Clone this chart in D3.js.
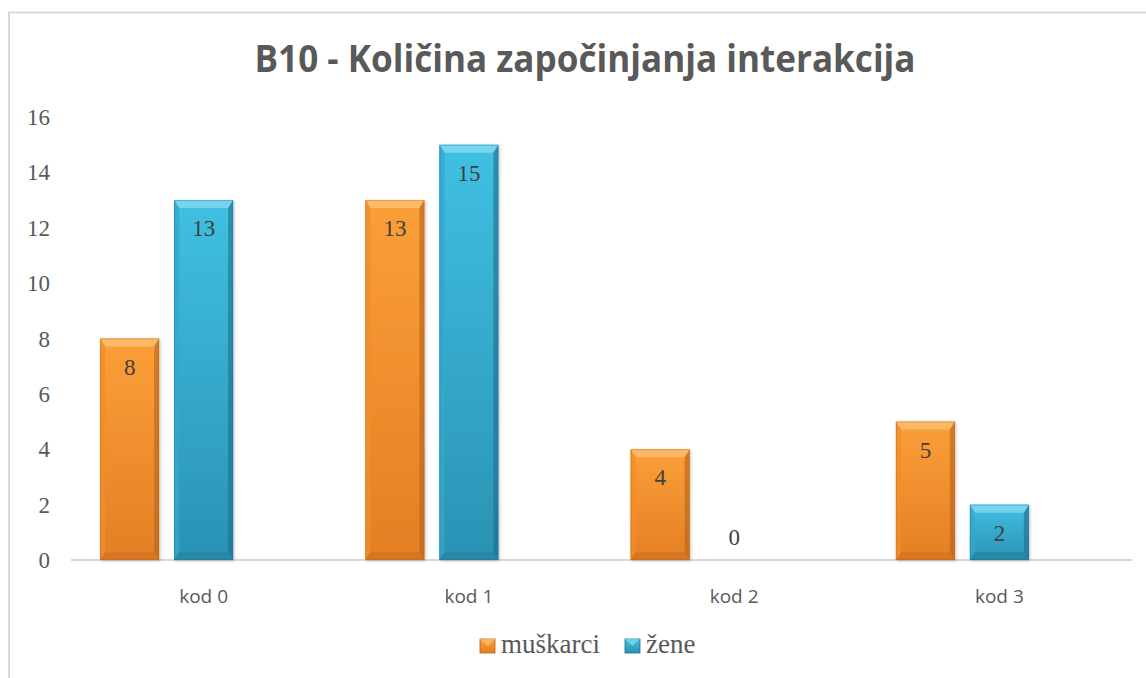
<!DOCTYPE html>
<html>
<head>
<meta charset="utf-8">
<script src="https://cdn.jsdelivr.net/npm/d3@7/dist/d3.min.js"></script>
<style>
  body { margin: 0; background: #fff; }
  svg { display: block; }
</style>
</head>
<body>
<div id="chart"></div>
<script>
// data
var categories = ["kod 0", "kod 1", "kod 2", "kod 3"];
var seriesNames = ["muškarci", "žene"];
var muskarci = [8, 13, 4, 5];
var zene = [13, 15, 0, 2];
var yTicks = [0, 2, 4, 6, 8, 10, 12, 14, 16];

var width = 1146, height = 678;
var margin = {top: 117, right: 14, bottom: 118, left: 71};

var svg = d3.select("#chart").append("svg")
    .attr("width", width)
    .attr("height", height);

// chart frame
svg.append("path")
    .attr("d", "M9,680 L9,12.5 L1150,12.5")
    .attr("fill", "none")
    .attr("stroke", "#d9d9d9")
    .attr("stroke-width", 2);

var x = d3.scaleBand()
    .domain(categories)
    .range([margin.left, width - margin.right]);

var y = d3.scaleLinear()
    .domain([0, 16])
    .range([height - margin.bottom, margin.top]);

var barW = 59, barGap = 15;
// bars sit left of the category label (label is under the 2nd bar)
function barX(i, s) {
    var c = x(categories[i]) + x.bandwidth() / 2;
    return c - barW / 2 - (1 - s) * (barW + barGap);
}

var defs = svg.append("defs");
var palettes = [
    {top: "#fb9f38", bot: "#e47f24", light: "#fdbd6c", dark: "#b8621a", side: "#f38d2b"},
    {top: "#40c0e2", bot: "#2a92b4", light: "#7bd6ef", dark: "#1f6e88", side: "#33a8cc"}
];
palettes.forEach(function(p, k) {
    var g = defs.append("linearGradient")
        .attr("id", "grad" + k)
        .attr("x1", 0).attr("y1", 0).attr("x2", 0).attr("y2", 1);
    g.append("stop").attr("offset", "0%").attr("stop-color", p.top);
    g.append("stop").attr("offset", "100%").attr("stop-color", p.bot);
});
var shadow = defs.append("filter").attr("id", "shadow")
    .attr("x", "-20%").attr("y", "-5%").attr("width", "140%").attr("height", "115%");
shadow.append("feDropShadow")
    .attr("dx", 1).attr("dy", 1).attr("stdDeviation", 1.5)
    .attr("flood-color", "#000").attr("flood-opacity", 0.25);

// y axis labels
svg.append("g")
    .selectAll("text")
    .data(yTicks)
    .enter().append("text")
    .attr("x", 50)
    .attr("y", function(d) { return y(d); })
    .attr("dy", "0.35em")
    .attr("text-anchor", "end")
    .attr("font-family", "Liberation Serif, Times New Roman, serif")
    .attr("font-size", 23)
    .attr("fill", "#595959")
    .text(function(d) { return d; });

// baseline
svg.append("line")
    .attr("x1", margin.left).attr("x2", width - margin.right)
    .attr("y1", y(0)).attr("y2", y(0))
    .attr("stroke", "#d9d9d9")
    .attr("stroke-width", 2);

var rows = [];
[muskarci, zene].forEach(function(vals, s) {
    vals.forEach(function(v, i) { rows.push({s: s, i: i, v: v}); });
});

var bars = svg.append("g").selectAll("g")
    .data(rows.filter(function(d) { return d.v > 0; }))
    .enter().append("g")
    .attr("filter", "url(#shadow)");

bars.each(function(d) {
    var g = d3.select(this), p = palettes[d.s];
    var x0 = barX(d.i, d.s), x1 = x0 + barW;
    var y0 = y(d.v), y1 = y(0);
    var b = 8, sb = 5;
    g.append("rect")
        .attr("x", x0).attr("y", y0)
        .attr("width", barW).attr("height", y1 - y0)
        .attr("fill", "url(#grad" + d.s + ")");
    // top bevel
    g.append("path")
        .attr("d", "M" + x0 + "," + y0 + "L" + x1 + "," + y0 + "L" + (x1 - sb) + "," + (y0 + b) +
            "L" + (x0 + sb) + "," + (y0 + b) + "Z")
        .attr("fill", p.light).attr("opacity", 0.9);
    // left bevel
    g.append("path")
        .attr("d", "M" + x0 + "," + y0 + "L" + (x0 + sb) + "," + (y0 + b) + "L" + (x0 + sb) + "," + (y1 - b) +
            "L" + x0 + "," + y1 + "Z")
        .attr("fill", p.side).attr("opacity", 0.8);
    // right bevel
    g.append("path")
        .attr("d", "M" + x1 + "," + y0 + "L" + (x1 - sb) + "," + (y0 + b) + "L" + (x1 - sb) + "," + (y1 - b) +
            "L" + x1 + "," + y1 + "Z")
        .attr("fill", p.dark).attr("opacity", 0.6);
    // bottom bevel
    g.append("path")
        .attr("d", "M" + x0 + "," + y1 + "L" + x1 + "," + y1 + "L" + (x1 - sb) + "," + (y1 - b) +
            "L" + (x0 + sb) + "," + (y1 - b) + "Z")
        .attr("fill", p.dark).attr("opacity", 0.3);
    g.append("rect")
        .attr("x", x0 + 0.5).attr("y", y0 + 0.5)
        .attr("width", barW - 1).attr("height", y1 - y0 - 1)
        .attr("fill", "none").attr("stroke", p.dark).attr("stroke-opacity", 0.35);
});

// value labels
svg.append("g").selectAll("text")
    .data(rows)
    .enter().append("text")
    .attr("x", function(d) { return barX(d.i, d.s) + barW / 2; })
    .attr("y", function(d) { return Math.min(y(d.v) + 28, y(0) - 23); })
    .attr("dy", "0.35em")
    .attr("text-anchor", "middle")
    .attr("font-family", "Liberation Serif, Times New Roman, serif")
    .attr("font-size", 23)
    .attr("fill", "#404040")
    .text(function(d) { return d.v; });

// x axis labels
svg.append("g").selectAll("text")
    .data(categories)
    .enter().append("text")
    .attr("x", function(d) { return x(d) + x.bandwidth() / 2; })
    .attr("y", 596)
    .attr("dy", "0.35em")
    .attr("text-anchor", "middle")
    .attr("font-family", "Open Sans, sans-serif")
    .attr("font-size", 19)
    .attr("fill", "#595959")
    .text(function(d) { return d; });

// title
svg.append("text")
    .attr("x", 585)
    .attr("y", 72)
    .attr("text-anchor", "middle")
    .attr("font-family", "Open Sans, sans-serif")
    .attr("font-weight", "bold")
    .attr("font-size", 37)
    .attr("textLength", 661)
    .attr("lengthAdjust", "spacingAndGlyphs")
    .attr("fill", "#595959")
    .text("B10 - Količina započinjanja interakcija");

// legend
var legendX = [480, 625];
var legend = svg.append("g").selectAll("g")
    .data(seriesNames)
    .enter().append("g")
    .attr("transform", function(d, k) { return "translate(" + legendX[k] + ",639)"; });

legend.append("rect")
    .attr("width", 15).attr("height", 14)
    .attr("fill", function(d, k) { return "url(#grad" + k + ")"; })
    .attr("stroke", function(d, k) { return palettes[k].dark; })
    .attr("stroke-width", 0.8);
legend.append("path")
    .attr("d", "M0,0L15,0L7.5,7Z")
    .attr("fill", function(d, k) { return palettes[k].light; })
    .attr("opacity", 0.8);

legend.append("text")
    .attr("x", 21)
    .attr("y", 14)
    .attr("font-family", "Liberation Serif, Times New Roman, serif")
    .attr("font-size", 27)
    .attr("fill", "#595959")
    .text(function(d) { return d; });
</script>
</body>
</html>
